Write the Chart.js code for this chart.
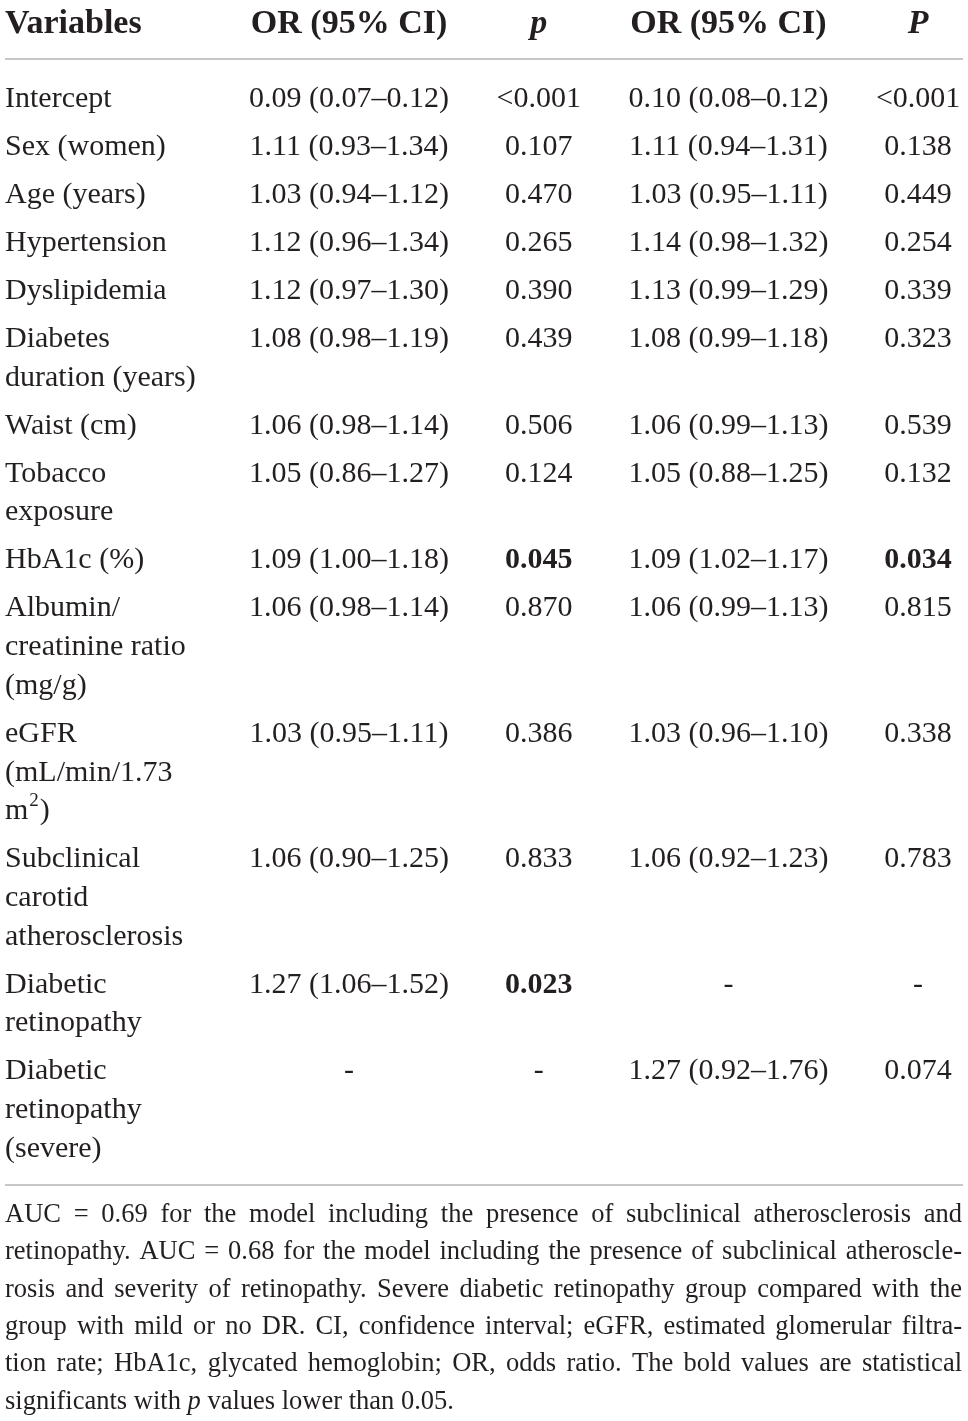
<!DOCTYPE html>
<html>
<head>
<meta charset="utf-8">
<script src="https://cdn.jsdelivr.net/npm/chart.js@4.4.1/dist/chart.umd.min.js"></script>
<style>
  html, body { margin: 0; padding: 0; background: #fff; }
  #wrap { position: relative; width: 968px; height: 1421px; }
</style>
</head>
<body>
<div id="wrap"><canvas id="table"></canvas></div>
<script>
// table content, one list per column
const headers = ['Variables', 'OR (95% CI)', '*p*', 'OR (95% CI)', '*P*'];

const variables = [
  ['Intercept'],
  ['Sex (women)'],
  ['Age (years)'],
  ['Hypertension'],
  ['Dyslipidemia'],
  ['Diabetes', 'duration (years)'],
  ['Waist (cm)'],
  ['Tobacco', 'exposure'],
  ['HbA1c (%)'],
  ['Albumin/', 'creatinine ratio', '(mg/g)'],
  ['eGFR', '(mL/min/1.73', 'm^2)'],
  ['Subclinical', 'carotid', 'atherosclerosis'],
  ['Diabetic', 'retinopathy'],
  ['Diabetic', 'retinopathy', '(severe)'],
];

const orModel1 = ['0.09 (0.07–0.12)', '1.11 (0.93–1.34)', '1.03 (0.94–1.12)', '1.12 (0.96–1.34)',
  '1.12 (0.97–1.30)', '1.08 (0.98–1.19)', '1.06 (0.98–1.14)', '1.05 (0.86–1.27)', '1.09 (1.00–1.18)',
  '1.06 (0.98–1.14)', '1.03 (0.95–1.11)', '1.06 (0.90–1.25)', '1.27 (1.06–1.52)', '-'];
const pModel1 = ['<0.001', '0.107', '0.470', '0.265', '0.390', '0.439', '0.506', '0.124', '0.045',
  '0.870', '0.386', '0.833', '0.023', '-'];
const orModel2 = ['0.10 (0.08–0.12)', '1.11 (0.94–1.31)', '1.03 (0.95–1.11)', '1.14 (0.98–1.32)',
  '1.13 (0.99–1.29)', '1.08 (0.99–1.18)', '1.06 (0.99–1.13)', '1.05 (0.88–1.25)', '1.09 (1.02–1.17)',
  '1.06 (0.99–1.13)', '1.03 (0.96–1.10)', '1.06 (0.92–1.23)', '-', '1.27 (0.92–1.76)'];
const pModel2 = ['<0.001', '0.138', '0.449', '0.254', '0.339', '0.323', '0.539', '0.132', '0.034',
  '0.815', '0.338', '0.783', '-', '0.074'];

// significant p values (printed bold)
const boldP1 = ['0.045', '0.023'];
const boldP2 = ['0.034'];

const footnote = [
  'AUC = 0.69 for the model including the presence of subclinical atherosclerosis and',
  'retinopathy. AUC = 0.68 for the model including the presence of subclinical atheroscle-',
  'rosis and severity of retinopathy. Severe diabetic retinopathy group compared with the',
  'group with mild or no DR. CI, confidence interval; eGFR, estimated glomerular filtra-',
  'tion rate; HbA1c, glycated hemoglobin; OR, odds ratio. The bold values are statistical',
  'significants with *p* values lower than 0.05.',
];

const INK = '#231f20';
const SERIF = '"Liberation Serif", "DejaVu Serif", serif';
const HEAD_FONT = 'bold 34px ' + SERIF;
const HEAD_IT_FONT = 'italic bold 34px ' + SERIF;
const BODY_FONT = '30px ' + SERIF;
const BODY_BOLD = 'bold 30px ' + SERIF;
const NOTE_FONT = '26.5px ' + SERIF;
const NOTE_IT = 'italic 26.5px ' + SERIF;

// layout (y axis runs in page pixels, x axis in column units)
const headerY = 33;
const rowY = [];
let yy = 107;
variables.forEach(lines => { rowY.push(yy); yy += 48 + (lines.length - 1) * 38.7; });
const LINE = 38.7;
const colX = [-0.8136, 1, 2, 3, 4];
const cols = [variables, orModel1, pModel1, orModel2, pModel2];

function textWithSup(ctx, str, x, y, align) {
  // handles "^2" superscript and *italic*
  let font = ctx.font;
  if (str.startsWith('*') && str.endsWith('*')) {
    ctx.textAlign = align;
    ctx.fillText(str.slice(1, -1), x, y);
    return;
  }
  if (!str.includes('^')) {
    ctx.textAlign = align;
    ctx.fillText(str, x, y);
    return;
  }
  const parts = str.split('^');
  let cx = x;
  ctx.textAlign = 'left';
  ctx.fillText(parts[0], cx, y);
  cx += ctx.measureText(parts[0]).width;
  const sup = parts[1][0];
  ctx.font = '19px ' + SERIF;
  ctx.fillText(sup, cx + 1, y - 13);
  cx += ctx.measureText(sup).width + 2;
  ctx.font = font;
  ctx.fillText(parts[1].slice(1), cx, y);
}

function measureWord(ctx, w) {
  if (w.startsWith('*') && w.endsWith('*')) {
    const f = ctx.font; ctx.font = NOTE_IT;
    const m = ctx.measureText(w.slice(1, -1)).width; ctx.font = f; return m;
  }
  return ctx.measureText(w).width;
}

function drawNoteLine(ctx, line, left, right, y, justify) {
  ctx.font = NOTE_FONT;
  const words = line.split(' ');
  const space = ctx.measureText(' ').width;
  const widths = words.map(w => measureWord(ctx, w));
  const total = widths.reduce((a, b) => a + b, 0);
  let gap = space, sx = 1;
  if (justify) {
    gap = (right - left - total) / (words.length - 1);
    if (gap < space * 0.7) {
      gap = space * 0.7;
      sx = (right - left) / (total + gap * (words.length - 1));
    }
  }
  ctx.save();
  ctx.translate(left, y);
  ctx.scale(sx, 1);
  ctx.textAlign = 'left';
  let x = 0;
  words.forEach((w, i) => {
    if (w.startsWith('*') && w.endsWith('*')) {
      ctx.font = NOTE_IT; ctx.fillText(w.slice(1, -1), x, 0); ctx.font = NOTE_FONT;
    } else {
      ctx.fillText(w, x, 0);
    }
    x += widths[i] + gap;
  });
  ctx.restore();
}

const tablePlugin = {
  id: 'tableText',
  afterDatasetsDraw(chart) {
    const ctx = chart.ctx;
    const xs = chart.scales.x, ys = chart.scales.y;
    ctx.save();
    ctx.fillStyle = INK;
    ctx.textBaseline = 'alphabetic';

    // rules
    ctx.strokeStyle = '#c8c8c8';
    ctx.lineWidth = 2;
    [59, 1185].forEach(v => {
      const py = ys.getPixelForValue(v);
      ctx.beginPath(); ctx.moveTo(5, py); ctx.lineTo(963, py); ctx.stroke();
    });

    // header row (dataset 0)
    chart.getDatasetMeta(0).data.forEach((pt, c) => {
      const h = headers[c];
      ctx.font = h.startsWith('*') ? HEAD_IT_FONT : HEAD_FONT;
      textWithSup(ctx, h, pt.x, pt.y, c === 0 ? 'left' : 'center');
    });

    // body columns (datasets 1..5)
    cols.forEach((col, c) => {
      chart.getDatasetMeta(c + 1).data.forEach((pt, r) => {
        const v = col[r];
        let bold = (c === 2 && boldP1.includes(v)) || (c === 4 && boldP2.includes(v));
        ctx.font = bold ? BODY_BOLD : BODY_FONT;
        if (Array.isArray(v)) {
          v.forEach((ln, k) => textWithSup(ctx, ln, pt.x, pt.y + k * LINE, 'left'));
        } else {
          textWithSup(ctx, v, pt.x, pt.y, 'center');
        }
      });
    });

    // footnote
    const noteTop = 1222;
    footnote.forEach((ln, i) => {
      const py = ys.getPixelForValue(noteTop + i * 37.3);
      drawNoteLine(ctx, ln, 5, 962, py, i < footnote.length - 1);
    });
    ctx.restore();
  }
};

const datasets = [{
  label: 'header',
  data: headers.map((_, c) => ({x: colX[c], y: headerY})),
}].concat(cols.map((col, c) => ({
  label: 'col' + c,
  data: col.map((_, r) => ({x: colX[c], y: rowY[r]})),
})));
datasets.forEach(d => { d.pointRadius = 0; d.pointHoverRadius = 0; d.borderWidth = 0; });

new Chart(document.getElementById('table'), {
  type: 'scatter',
  data: {datasets},
  options: {
    animation: false,
    responsive: true,
    maintainAspectRatio: false,
    events: [],
    layout: {padding: 0},
    scales: {
      x: {type: 'linear', display: false, min: -0.84, max: 4.263},
      y: {type: 'linear', display: false, min: 0, max: 1421, reverse: true},
    },
    plugins: {
      legend: {display: false},
      tooltip: {enabled: false},
    },
  },
  plugins: [tablePlugin],
});
</script>
</body>
</html>
